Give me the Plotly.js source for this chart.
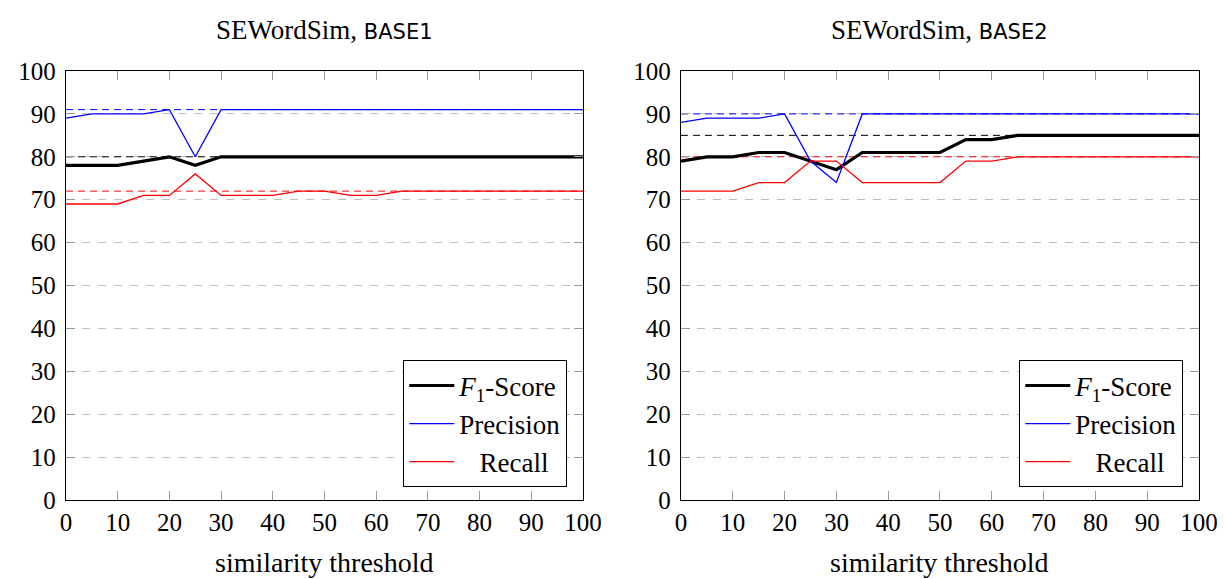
<!DOCTYPE html>
<html>
<head>
<meta charset="utf-8">
<script src="https://cdn.plot.ly/plotly-3.0.1.min.js"></script>
<style>
  html, body { margin: 0; padding: 0; background: #fff; }
  #chart { width: 1224px; height: 579px; }
</style>
</head>
<body>
<div id="chart"></div>
<script>
// Similarity thresholds (x axis)
const thresholds = [0, 5, 10, 15, 20, 25, 30, 35, 40, 45, 50, 55, 60, 65, 70, 75, 80, 85, 90, 95, 100];

// SEWordSim vs. BASE1
const base1F1        = [78, 78, 78, 79, 80, 78, 80, 80, 80, 80, 80, 80, 80, 80, 80, 80, 80, 80, 80, 80, 80];
const base1Precision = [89, 90, 90, 90, 91, 80, 91, 91, 91, 91, 91, 91, 91, 91, 91, 91, 91, 91, 91, 91, 91];
const base1Recall    = [69, 69, 69, 71, 71, 76, 71, 71, 71, 72, 72, 71, 71, 72, 72, 72, 72, 72, 72, 72, 72];
// Baseline reference levels (F1, Precision, Recall)
const base1Levels    = [80, 91, 72];

// SEWordSim vs. BASE2
const base2F1        = [79, 80, 80, 81, 81, 79, 77, 81, 81, 81, 81, 84, 84, 85, 85, 85, 85, 85, 85, 85, 85];
const base2Precision = [88, 89, 89, 89, 90, 79, 74, 90, 90, 90, 90, 90, 90, 90, 90, 90, 90, 90, 90, 90, 90];
const base2Recall    = [72, 72, 72, 74, 74, 79, 79, 74, 74, 74, 74, 79, 79, 80, 80, 80, 80, 80, 80, 80, 80];
const base2Levels    = [85, 90, 80];

const seriesNames = ['<i>F</i><sub>1</sub>-Score', 'Precision', '\u00a0\u00a0\u00a0Recall'];
const panelTitles = ['BASE1', 'BASE2'];
const xAxisTitle  = 'similarity threshold';
const tickValues  = [0, 10, 20, 30, 40, 50, 60, 70, 80, 90, 100];

const SERIF = '"Liberation Serif", "Times New Roman", serif';
const SANS  = "'DejaVu Sans', sans-serif";
const colors = ['#000000', '#0000ff', '#ff0000'];
const widths = [3.2, 1.3, 1.3];

function panelTraces(values, levels, xa, ya, legendId) {
  const out = [];
  // dashed reference levels drawn first so the curves sit on top
  levels.forEach((lv, i) => {
    out.push({
      x: [thresholds[0], thresholds[thresholds.length - 1]],
      y: [lv, lv],
      xaxis: xa, yaxis: ya,
      mode: 'lines',
      line: { color: colors[i], width: 1, dash: '7px,5px' },
      showlegend: false,
      hoverinfo: 'skip'
    });
  });
  values.forEach((vals, i) => {
    out.push({
      x: thresholds,
      y: vals,
      xaxis: xa, yaxis: ya,
      mode: 'lines',
      name: seriesNames[i],
      line: { color: colors[i], width: widths[i] },
      legend: legendId
    });
  });
  return out;
}

const data = [].concat(
  panelTraces([base1F1, base1Precision, base1Recall], base1Levels, 'x', 'y', 'legend'),
  panelTraces([base2F1, base2Precision, base2Recall], base2Levels, 'x2', 'y2', 'legend2')
);

function xAxis(domain, anchor) {
  return {
    domain: domain, anchor: anchor,
    range: [0, 100], tickvals: tickValues,
    ticks: 'inside', ticklen: 9, tickcolor: '#9a9a9a', tickwidth: 1,
    showline: true, linecolor: '#000', linewidth: 1.3, mirror: 'ticks',
    showgrid: false, zeroline: false,
    tickfont: { family: SERIF, size: 25, color: '#000' },
    fixedrange: true
  };
}
function yAxis(anchor) {
  return {
    anchor: anchor,
    range: [0, 100], tickvals: tickValues,
    ticks: 'inside', ticklen: 9, tickcolor: '#9a9a9a', tickwidth: 1,
    showline: true, linecolor: '#000', linewidth: 1.3, mirror: 'ticks',
    showgrid: true, gridcolor: '#bdbdbd', gridwidth: 1, griddash: '8px,8px',
    zeroline: false,
    ticklabelstandoff: 4,
    tickfont: { family: SERIF, size: 25, color: '#000' },
    fixedrange: true
  };
}

function legendBox(xRight) {
  return {
    x: xRight, xanchor: 'right', y: 0.03, yanchor: 'bottom',
    bgcolor: '#fff', bordercolor: '#000', borderwidth: 1.3,
    font: { family: SERIF, size: 27, color: '#000' },
    itemwidth: 45, traceorder: 'normal', tracegroupgap: 0
  };
}

const annotations = [];
panelTitles.forEach((t, i) => {
  const xr = (i === 0 ? 'x' : 'x2') + ' domain';
  // panel heading
  annotations.push({
    text: 'SEWordSim, <span style="font-family:' + SANS + ';font-size:21px">' + t + '</span>',
    xref: xr, yref: 'paper',
    x: 0.5, y: 1, xanchor: 'center', yanchor: 'middle', yshift: 41,
    showarrow: false,
    font: { family: SERIF, size: 27, color: '#000' }
  });
  // x-axis title
  annotations.push({
    text: xAxisTitle,
    xref: xr, yref: 'paper',
    x: 0.5, y: 0, xanchor: 'center', yanchor: 'middle', yshift: -62,
    showarrow: false,
    font: { family: SERIF, size: 28, color: '#000' }
  });
});

const layout = {
  width: 1224, height: 579,
  margin: { l: 66, r: 25, t: 71, b: 79 },
  paper_bgcolor: '#fff', plot_bgcolor: '#fff',
  font: { family: SERIF, color: '#000' },
  xaxis: xAxis([0, 0.4563], 'y'),
  yaxis: yAxis('x'),
  xaxis2: xAxis([0.5428, 1], 'y2'),
  yaxis2: yAxis('x2'),
  legend: legendBox(0.4422),
  legend2: legendBox(0.9859),
  showlegend: true,
  annotations: annotations
};

Plotly.newPlot('chart', data, layout, { staticPlot: true, displayModeBar: false });
</script>
</body>
</html>
